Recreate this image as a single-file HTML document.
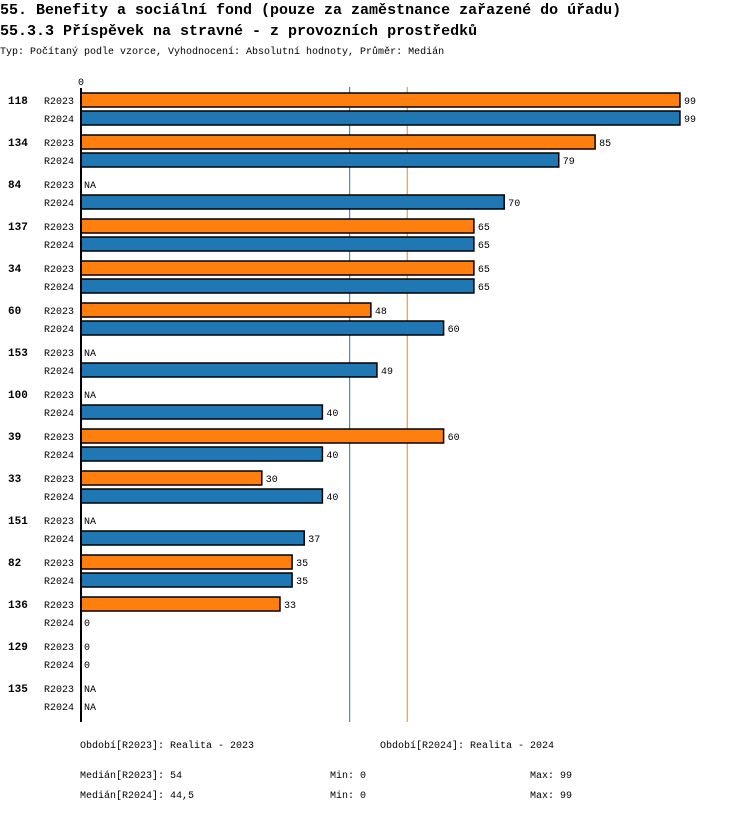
<!DOCTYPE html>
<html><head><meta charset="utf-8"><style>
body{margin:0;background:#fff;width:750px;height:812px;overflow:hidden;font-family:"Liberation Mono",monospace}
svg text{font-family:"Liberation Mono",monospace}
</style></head><body>
<svg id="chart" width="750" height="812" xmlns="http://www.w3.org/2000/svg">
<text x="0" y="14" font-size="15" font-weight="bold">55. Benefity a sociální fond (pouze za zaměstnance zařazené do úřadu)</text>
<text x="0" y="35" font-size="15" font-weight="bold">55.3.3 Příspěvek na stravné - z provozních prostředků</text>
<text x="0" y="54" font-size="10">Typ: Počítaný podle vzorce, Vyhodnocení: Absolutní hodnoty, Průměr: Medián</text>
<text x="78" y="85" font-size="10">0</text>
<g id="marks"></g>
<line x1="81" y1="88" x2="81" y2="722" stroke="#000" stroke-width="2"/>
<text x="80" y="748" font-size="10">Období[R2023]: Realita - 2023</text>
<text x="380" y="748" font-size="10">Období[R2024]: Realita - 2024</text>
<text x="80" y="778" font-size="10">Medián[R2023]: 54</text>
<text x="330" y="778" font-size="10">Min: 0</text>
<text x="530" y="778" font-size="10">Max: 99</text>
<text x="80" y="798" font-size="10">Medián[R2024]: 44,5</text>
<text x="330" y="798" font-size="10">Min: 0</text>
<text x="530" y="798" font-size="10">Max: 99</text>
</svg>
<script>
const categories=["118","134","84","137","34","60","153","100","39","33","151","82","136","129","135"];
const r2023=[99,85,null,65,65,48,null,null,60,30,null,35,33,0,null];
const r2024=[99,79,70,65,65,60,49,40,40,40,37,35,0,0,null];
const medians=[54,44.5];
const x0=80,scale=6.06,rowTop=100,groupH=42,subH=18;
const xs=v=>x0+v*scale;
const g=document.getElementById('marks');
const NS='http://www.w3.org/2000/svg';
function mk(t,a){const e=document.createElementNS(NS,t);for(const k in a)e.setAttribute(k,a[k]);g.appendChild(e);return e;}
const ml1=mk('line',{x1:xs(medians[1]),y1:87,x2:xs(medians[1]),y2:722,stroke:'#1f77b4','stroke-width':1});


const ml0=mk('line',{x1:xs(medians[0]),y1:87,x2:xs(medians[0]),y2:722,stroke:'#ff7f0e','stroke-width':1});


categories.forEach((c,i)=>{
  const y=rowTop+i*groupH;
  const cl=mk('text',{x:8,y:y+4,'font-size':11,'font-weight':'bold'});cl.textContent=c;
  
  
  [[r2023,'R2023','#ff7f0e'],[r2024,'R2024','#1f77b4']].forEach(([arr,nm,col],j)=>{
    const cy=y+j*subH;
    const sl=mk('text',{x:44,y:cy+4,'font-size':10});sl.textContent=nm;
    
    
    const v=arr[i];
    let lx=x0+4;
    if(v!==null&&v>0){
      const r=mk('rect',{x:x0+1,y:cy-7,width:xs(v)-x0-1,height:14,fill:col,stroke:'#000','stroke-width':1.5});
      
      
      lx=xs(v)+4;
    }
    const vl=mk('text',{x:lx,y:cy+4,'font-size':10});vl.textContent=v===null?'NA':String(v);
    
    
  });
});
</script>
</body></html>
